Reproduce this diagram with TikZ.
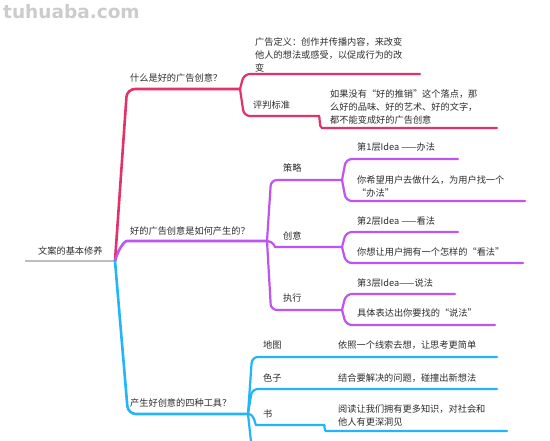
\documentclass[tikz,border=0pt]{standalone}
\usepackage{fontspec}
\setmainfont{Noto Sans CJK SC}
\newfontfamily\wmfont{DejaVu Sans}
\definecolor{cred}{RGB}{226,50,104}
\definecolor{cpurple}{RGB}{190,85,240}
\definecolor{cblue}{RGB}{35,180,250}
\definecolor{cgray}{RGB}{190,190,190}
\definecolor{ctext}{RGB}{45,45,45}
\definecolor{cwm}{RGB}{204,204,204}
\tikzset{
  lbl/.style={anchor=base west, inner sep=0pt, font=\fontsize{9.2}{12.7}\selectfont, text=ctext},
  mlbl/.style={lbl, align=left, anchor=north west},
  mainbr/.style={line width=2.6pt, line cap=round, rounded corners=8pt},
  subbr/.style={line width=2.2pt, line cap=round, rounded corners=6pt},
}
\begin{document}
\begin{tikzpicture}[x=1pt,y=-1pt]
\clip (0,0) rectangle (550,440);
\fill[white] (0,0) rectangle (550,440);
% watermark
\node[anchor=base west, inner sep=0pt, font=\wmfont\bfseries\fontsize{18.5}{18.5}\selectfont, text=cwm] (wm) at (3,18) {tuhuaba.com};

% junction coordinates
\coordinate (root0) at (25,261);
\coordinate (root) at (115,261);
\coordinate (rj) at (240,89);
\coordinate (pj) at (267,241);
\coordinate (bj) at (248,414);
\coordinate (sj) at (342,180);
\coordinate (cj) at (342,247);
\coordinate (ej) at (342,310);

% root
\draw[line width=2.6pt, cgray] (root0) -- (root);
\node[lbl] (t-root) at (38,254.5) {文案的基本修养};

% ===== red branch =====
\draw[mainbr, cred] (root) -- (127,89) -- (rj);
\node[lbl] (t-r) at (130,81.5) {什么是好的广告创意？};
\coordinate (r1e) at (420,74);
\draw[subbr, cred] (rj) -- (244,74) -- (r1e);
\node[mlbl] (t-r1) at (255,37.6) {广告定义：创作并传播内容，来改变\\他人的想法或感受，以促成行为的改\\变};
\coordinate (r2e) at (497,128);
\draw[subbr, cred] (rj) -- (244,116) -- (313,116) .. controls (320,116) and (319,128) .. (328,128) -- (r2e);
\node[lbl] (t-r2) at (253,108.5) {评判标准};
\node[mlbl] (t-r2c) at (330,89.8) {如果没有“好的推销”这个落点，那\\么好的品味、好的艺术、好的文字，\\都不能变成好的广告创意};

% ===== purple branch =====
\draw[mainbr, cpurple] (root) to[out=75,in=180] (135,241) -- (pj);
\node[lbl] (t-p) at (130,234.5) {好的广告创意是如何产生的？};
% 策略
\draw[subbr, cpurple] (pj) -- (271,180) -- (sj);
\node[lbl] (t-s) at (283,171.5) {策略};
\coordinate (s1e) at (458,159);
\coordinate (s2e) at (525,201);
\draw[subbr, cpurple] (sj) -- (346,159) -- (s1e);
\draw[subbr, cpurple] (sj) -- (346,201) -- (s2e);
\node[lbl] (t-s1) at (357,150.5) {第1层Idea ——办法};
\node[mlbl] (t-s2) at (357,175.8) {你希望用户去做什么，为用户找一个\\“办法”};
% 创意
\draw[subbr, cpurple] (pj) to[out=0,in=180] (281,247) -- (cj);
\node[lbl] (t-c) at (283,239.5) {创意};
\coordinate (c1e) at (458,232);
\coordinate (c2e) at (523,263);
\draw[subbr, cpurple] (cj) -- (346,232) -- (c1e);
\draw[subbr, cpurple] (cj) -- (346,263) -- (c2e);
\node[lbl] (t-c1) at (357,224.5) {第2层Idea ——看法};
\node[lbl] (t-c2) at (357,255.5) {你想让用户拥有一个怎样的“看法”};
% 执行
\draw[subbr, cpurple] (pj) -- (271,310) -- (ej);
\node[lbl] (t-e) at (283,301.5) {执行};
\coordinate (e1e) at (455,294);
\coordinate (e2e) at (495,325);
\draw[subbr, cpurple] (ej) -- (346,294) -- (e1e);
\draw[subbr, cpurple] (ej) -- (346,325) -- (e2e);
\node[lbl] (t-e1) at (357,286.5) {第3层Idea——说法};
\node[lbl] (t-e2) at (357,316.5) {具体表达出你要找的“说法”};

% ===== blue branch =====
\draw[mainbr, cblue] (root) -- (128,414) -- (bj);
\node[lbl] (t-b) at (130,406.5) {产生好创意的四种工具？};
\coordinate (b1e) at (497,357);
\coordinate (b2e) at (497,389);
\coordinate (b3e) at (507,431);
\coordinate (b4e) at (253,460);
\draw[subbr, cblue] (bj) -- (252,357) -- (b1e);
\draw[subbr, cblue] (bj) -- (252,389) -- (b2e);
\draw[subbr, cblue] (bj) to[out=0,in=180] (262,425) -- (318,425) .. controls (325,425) and (324,431) .. (332,431) -- (b3e);
\draw[subbr, cblue] (bj) -- (b4e);
\node[lbl] (t-b1) at (263,348.5) {地图};
\node[lbl] (t-b1c) at (338,348.5) {依照一个线索去想，让思考更简单};
\node[lbl] (t-b2) at (263,381.5) {色子};
\node[lbl] (t-b2c) at (338,381.5) {结合要解决的问题，碰撞出新想法};
\node[lbl] (t-b3) at (263,417.5) {书};
\node[mlbl] (t-b3c) at (338,404.8) {阅读让我们拥有更多知识，对社会和\\他人有更深洞见};
\end{tikzpicture}
\end{document}
